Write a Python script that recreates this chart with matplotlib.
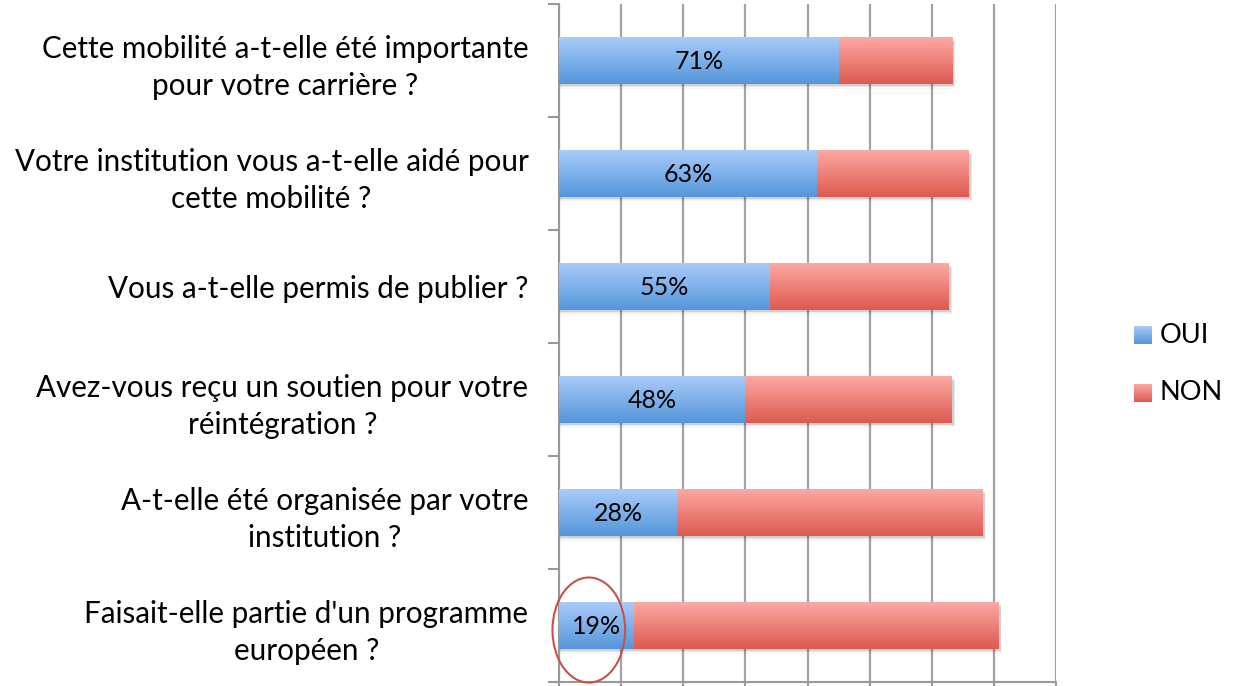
import numpy as np
import matplotlib
matplotlib.use("Agg")
import matplotlib.pyplot as plt
from matplotlib.patches import Ellipse, Rectangle
from matplotlib.colors import LinearSegmentedColormap

plt.rcParams['font.family'] = ['Lato', 'DejaVu Sans']

questions = [
    "Cette mobilité a-t-elle été importante\npour votre carrière ?",
    "Votre institution vous a-t-elle aidé pour\ncette mobilité ?",
    "Vous a-t-elle permis de publier ?",
    "Avez-vous reçu un soutien pour votre\nréintégration ?",
    "A-t-elle été organisée par votre\ninstitution ?",
    "Faisait-elle partie d'un programme\neuropéen ?",
]
oui = [45, 41.5, 34, 30, 19, 12]
non = [18.2, 24.4, 28.7, 33.2, 49.1, 58.7]
pct_labels = ["71%", "63%", "55%", "48%", "28%", "19%"]

blue_grad = LinearSegmentedColormap.from_list("b", ["#A8CBFA", "#5596DA"])
red_grad = LinearSegmentedColormap.from_list("r", ["#FDA8A3", "#DD5A50"])
grad = np.linspace(0, 1, 64).reshape(-1, 1)

fig = plt.figure(figsize=(12.36, 6.86), dpi=100)
ax = fig.add_axes([559/1236, 4/686, 497/1236, 678/686])

y = np.arange(len(questions))
h = 0.41

def gradient_bars(left, width, cmap):
    bars = ax.barh(y, width, left=left, height=h, color='none', zorder=3)
    for b in bars:
        x0, y0 = b.get_x(), b.get_y()
        w, hh = b.get_width(), b.get_height()
        # y axis is inverted: row 0 of grad sits at y0 (top of the bar)
        im = ax.imshow(grad, cmap=cmap, aspect='auto', origin='lower',
                       extent=[x0, x0 + w, y0, y0 + hh], zorder=3)
        im.set_clip_path(b)
    return bars

# soft shadow
for yi, tot in zip(y, np.array(oui) + np.array(non)):
    for k, a in enumerate([0.10, 0.06, 0.03]):
        ax.add_patch(Rectangle((0.2, yi - h/2 + 0.02 + k*0.012), tot + 0.2 + k*0.1, h,
                               color='black', alpha=a, lw=0, zorder=2))

bars_oui = gradient_bars(0, oui, blue_grad)
bars_non = gradient_bars(oui, non, red_grad)

for yi, v, lab in zip(y, oui, pct_labels):
    ax.text(v/2, yi + 0.01, lab, ha='center', va='center', fontsize=18, zorder=5)

ax.set_xlim(0, 80)
ax.set_ylim(len(questions) - 0.5, -0.5)
ax.set_xticks(np.arange(0, 81, 10))
ax.set_xticklabels([])
ax.grid(axis='x', color='#A3A3A3', lw=1.6, zorder=1)
ax.set_axisbelow(True)

ax.set_yticks(np.arange(-0.5, len(questions)), labels=[])
ax.set_yticks(y, labels=questions, minor=True)
ax.tick_params(axis='y', which='major', length=8, width=1.5, color='#999999', direction='out')
ax.tick_params(axis='y', which='minor', length=0, pad=22, labelsize=21.3)
ax.tick_params(axis='x', length=5, width=1.5, color='#999999', direction='out')
for lbl in ax.get_yticklabels(minor=True):
    lbl.set_multialignment('center')
    lbl.set_linespacing(1.4)

for s in ['top', 'right']:
    ax.spines[s].set_visible(False)
for s in ['left', 'bottom']:
    ax.spines[s].set_color('#999999')
    ax.spines[s].set_linewidth(1.5)

# highlight circle
ax.add_patch(Ellipse((4.8, 5.04), 11.7, 0.93, fill=False, ec='#C9504A', lw=1.5,
                     clip_on=False, zorder=6))

# legend
for ty, name, cm in [(335, "OUI", blue_grad), (393, "NON", red_grad)]:
    lax = fig.add_axes([1134/1236, 1 - (ty + 9)/686, 18/1236, 18/686])
    lax.imshow(grad, cmap=cm, aspect='auto')
    lax.axis('off')
    fig.text(1160/1236, 1 - ty/686, name, ha='left', va='center', fontsize=19.5)

fig.savefig("out.png", dpi=100)
